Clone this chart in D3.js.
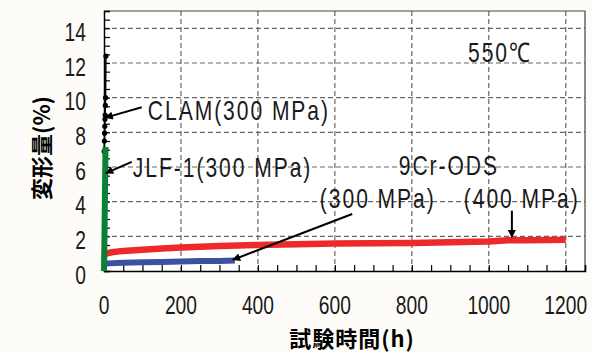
<!DOCTYPE html>
<html>
<head>
<meta charset="utf-8">
<script src="https://cdn.jsdelivr.net/npm/d3@7"></script>
<style>
  html, body { margin: 0; padding: 0; background: #fdfcf8; }
  svg { display: block; }
</style>
</head>
<body>
<div id="chart"></div>
<script>
// creep curves at 550 C, strain (%) vs time (h)
const clamTime = [0, 0.5, 1, 1.5, 2, 2.5, 3, 3.5, 4, 4.5, 5]
const clamStrain = [0, 6.9, 7.5, 7.95, 8.35, 8.75, 9.0, 9.55, 10.0, 11.2, 12.4]
const clamDots = [6.9, 7.5, 7.95, 8.35, 8.75, 9.0, 9.55, 10.0, 12.4]

const jlfTime = [0, 1, 2, 3, 4]
const jlfStrain = [0, 1.5, 3.5, 5.5, 7.15]

const ods300Time = [0, 10, 50, 100, 150, 200, 250, 300, 340]
const ods300Strain = [0.4, 0.44, 0.48, 0.5, 0.52, 0.55, 0.57, 0.58, 0.6]

const ods400Time = [0, 5, 20, 50, 100, 150, 200, 300, 400, 500, 600, 700, 800, 900, 1000, 1050, 1100, 1150, 1200]
const ods400Strain = [0.85, 1.0, 1.08, 1.16, 1.23, 1.3, 1.36, 1.44, 1.5, 1.55, 1.58, 1.6, 1.62, 1.66, 1.7, 1.77, 1.78, 1.79, 1.8]

const xTicks = [0, 200, 400, 600, 800, 1000, 1200]
const yTicks = [0, 2, 4, 6, 8, 10, 12, 14]

// labels and arrows, in data units (h, %)
const labels = [
  { text: 'CLAM(300 MPa)', t: 114, s: 8.71 },
  { text: 'JLF-1(300 MPa)', t: 75, s: 5.42 },
  { text: '550℃', t: 946, s: 12.06 },
  { text: '9Cr-ODS', t: 766, s: 5.54 },
  { text: '(300 MPa)', t: 561, s: 3.63 },
  { text: '(400 MPa)', t: 935, s: 3.63 }
]
const arrows = [
  { t0: 98, s0: 9.45, t1: 4, s1: 8.85 },
  { t0: 72, s0: 6.3, t1: 5, s1: 5.65 },
  { t0: 645, s0: 3.29, t1: 335, s1: 0.65 },
  { t0: 1060, s0: 3.48, t1: 1060, s1: 1.95 }
]

const width = 592
const height = 353
const plot = { left: 104, right: 585, top: 11, bottom: 271 }
const numFont = '"Liberation Sans", Arial, sans-serif'
const jpFont = '"Noto Sans CJK JP", sans-serif'

const svg = d3.select('#chart').append('svg').attr('width', width).attr('height', height)

svg.append('rect')
  .attr('x', plot.left).attr('y', plot.top)
  .attr('width', plot.right - plot.left).attr('height', plot.bottom - plot.top)
  .attr('fill', '#fff')

const x = d3.scaleLinear().domain([0, 1250]).range([plot.left, plot.right])
const y = d3.scaleLinear().domain([0, 15]).range([plot.bottom, plot.top])

// grid
const grid = svg.append('g').attr('stroke', '#666').attr('stroke-width', 1.2).attr('stroke-dasharray', '5,3')
grid.selectAll('.gx').data(xTicks.filter(d => d > 0)).join('line')
  .attr('x1', d => x(d)).attr('x2', d => x(d))
  .attr('y1', plot.top).attr('y2', plot.bottom)
grid.selectAll('.gy').data(yTicks.filter(d => d > 0)).join('line')
  .attr('x1', plot.left).attr('x2', plot.right)
  .attr('y1', d => y(d)).attr('y2', d => y(d))

// frame
svg.append('path')
  .attr('d', `M${plot.left},${plot.top}H${plot.right}V${plot.bottom}`)
  .attr('fill', 'none').attr('stroke', '#444').attr('stroke-width', 1.2)

// axes with inward ticks
const xAxis = svg.append('g')
  .attr('transform', `translate(0,${plot.bottom})`)
  .call(d3.axisTop(x).tickValues(d3.range(0, 1251, 50)).tickSize(6).tickFormat(''))
xAxis.select('.domain').attr('stroke', '#000').attr('stroke-width', 1.5)
xAxis.selectAll('.tick line').attr('stroke', '#000').attr('stroke-width', 1.2)

const yAxis = svg.append('g')
  .attr('transform', `translate(${plot.left},0)`)
  .call(d3.axisRight(y).tickValues(d3.range(0, 15.01, 0.5)).tickSize(6).tickFormat(''))
yAxis.select('.domain').attr('stroke', '#000').attr('stroke-width', 1.5)
yAxis.selectAll('.tick line').attr('stroke', '#000').attr('stroke-width', 1.2)

// condensed look: squeeze the text horizontally
const squeezed = (sel, sx) => sel
  .attr('transform', function () {
    const tx = +this.getAttribute('x'), ty = +this.getAttribute('y')
    return `translate(${tx},${ty}) scale(${sx},1)`
  })
  .attr('x', 0).attr('y', 0)

// tick labels
svg.append('g').selectAll('text').data(xTicks).join('text')
  .attr('x', d => x(d)).attr('y', 314)
  .attr('text-anchor', 'middle')
  .style('font-family', numFont).style('font-size', '26px').attr('fill', '#1a1a1a')
  .text(d => d)
  .call(squeezed, 0.74)
svg.append('g').selectAll('text').data(yTicks).join('text')
  .attr('x', 86).attr('y', d => y(d) + 12.5)
  .attr('text-anchor', 'end')
  .style('font-family', numFont).style('font-size', '26px').attr('fill', '#1a1a1a')
  .text(d => d)
  .call(squeezed, 0.74)

// axis titles
svg.append('text')
  .attr('x', 352).attr('y', 347)
  .attr('text-anchor', 'middle')
  .style('font-family', jpFont).style('font-size', '22px').style('font-weight', 'bold')
  .style('letter-spacing', '1px')
  .text('試験時間(h)')
svg.append('text')
  .attr('transform', 'translate(50,148) rotate(-90)')
  .attr('text-anchor', 'middle')
  .style('font-family', jpFont).style('font-size', '22px').style('font-weight', 'bold')
  .text('変形量(%)')

// series
const line = d3.line().x(d => x(d[0])).y(d => y(d[1]))
const drawSeries = (times, strains, color, w) => {
  svg.append('path')
    .datum(d3.zip(times, strains))
    .attr('d', line)
    .attr('fill', 'none')
    .attr('stroke', color)
    .attr('stroke-width', w)
    .attr('stroke-linejoin', 'round')
}
drawSeries(ods400Time, ods400Strain, '#ec2a2c', 6.5)
drawSeries(ods300Time, ods300Strain, '#3d51a3', 6)
drawSeries(clamTime, clamStrain, '#000', 1.5)
svg.append('g').selectAll('circle').data(clamDots).join('circle')
  .attr('cx', d => x(clamTime[clamStrain.indexOf(d)])).attr('cy', d => y(d))
  .attr('r', 2.6).attr('fill', '#000')
drawSeries(jlfTime, jlfStrain, '#0b8034', 6)

// annotations
svg.append('defs').append('marker')
  .attr('id', 'head').attr('viewBox', '0 0 10 10')
  .attr('refX', 9).attr('refY', 5)
  .attr('markerWidth', 10).attr('markerHeight', 8).attr('markerUnits', 'userSpaceOnUse')
  .attr('orient', 'auto')
  .append('path').attr('d', 'M0,0L10,5L0,10Z').attr('fill', '#000')

svg.append('g').selectAll('line').data(arrows).join('line')
  .attr('x1', d => x(d.t0)).attr('y1', d => y(d.s0))
  .attr('x2', d => x(d.t1)).attr('y2', d => y(d.s1))
  .attr('stroke', '#000').attr('stroke-width', 2)
  .attr('marker-end', 'url(#head)')

svg.append('g').selectAll('text').data(labels).join('text')
  .attr('x', d => x(d.t)).attr('y', d => y(d.s))
  .style('font-family', numFont).style('font-size', '27px').attr('fill', '#1a1a1a')
  .style('letter-spacing', '2.5px')
  .text(d => d.text)
  .call(squeezed, 0.78)
</script>
</body>
</html>
